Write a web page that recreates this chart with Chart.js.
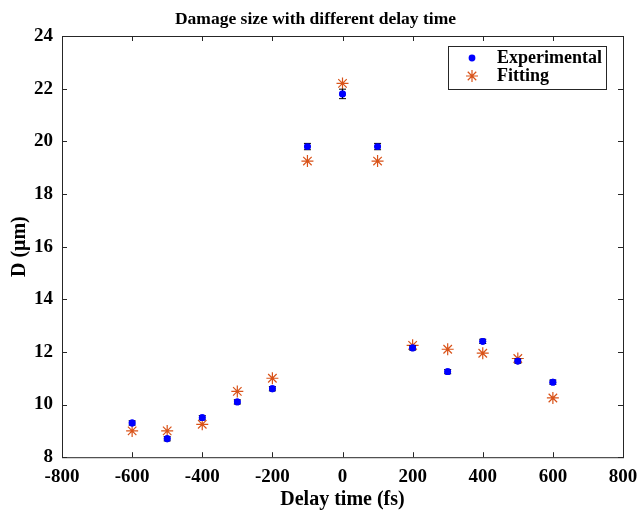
<!DOCTYPE html>
<html>
<head>
<meta charset="utf-8">
<script src="https://cdn.jsdelivr.net/npm/chart.js@4"></script>
<style>
  body { margin: 0; background: #fff; }
  #wrap { width: 639px; height: 510px; }
</style>
</head>
<body>
<div id="wrap"><canvas id="chart"></canvas></div>
<script>
// Data
const delayTimes = [-600, -500, -400, -300, -200, -100, 0, 100, 200, 300, 400, 500, 600];
const experimental = [9.3, 8.7, 9.5, 10.1, 10.6, 19.8, 21.8, 19.8, 12.15, 11.25, 12.4, 11.65, 10.85];
const expError = [0.08, 0.08, 0.08, 0.08, 0.08, 0.12, 0.18, 0.12, 0.08, 0.08, 0.08, 0.08, 0.08];
const fitting = [9.0, 9.0, 9.25, 10.5, 11.0, 19.25, 22.2, 19.25, 12.25, 12.1, 11.95, 11.75, 10.25];
const xTicks = [-800, -600, -400, -200, 0, 200, 400, 600, 800];
const yTicks = [8, 10, 12, 14, 16, 18, 20, 22, 24];

const FONT = "'Liberation Serif', 'Times New Roman', serif";
const BLUE = '#0000ff';
const ORANGE = '#D95319';

function drawStar(ctx, x, y, r) {
  ctx.beginPath();
  for (let k = 0; k < 4; k++) {
    const ang = k * Math.PI / 4;
    ctx.moveTo(x - r * Math.cos(ang), y - r * Math.sin(ang));
    ctx.lineTo(x + r * Math.cos(ang), y + r * Math.sin(ang));
  }
  ctx.stroke();
}

// error bars, box, inward ticks and legend
const extras = {
  id: 'extras',
  afterDatasetsDraw(chart) {
    const ctx = chart.ctx;
    const xs = chart.scales.x, ys = chart.scales.y;
    const a = chart.chartArea;
    ctx.save();
    // error bars
    ctx.strokeStyle = '#000';
    ctx.lineWidth = 1;
    delayTimes.forEach((t, i) => {
      const px = xs.getPixelForValue(t);
      const top = ys.getPixelForValue(experimental[i] + expError[i]);
      const bot = ys.getPixelForValue(experimental[i] - expError[i]);
      ctx.beginPath();
      ctx.moveTo(px, top); ctx.lineTo(px, bot);
      ctx.moveTo(px - 3.5, top); ctx.lineTo(px + 3.5, top);
      ctx.moveTo(px - 3.5, bot); ctx.lineTo(px + 3.5, bot);
      ctx.stroke();
    });
    // dots on top of the bars
    chart.getDatasetMeta(0).data.forEach(p => {
      ctx.fillStyle = BLUE;
      ctx.beginPath();
      ctx.arc(p.x, p.y, 3.4, 0, Math.PI * 2);
      ctx.fill();
    });
    // box
    ctx.strokeStyle = '#262626';
    ctx.lineWidth = 1;
    ctx.strokeRect(a.left + 0.5, a.top + 0.5, a.right - a.left, a.bottom - a.top);
    // inward ticks
    ctx.beginPath();
    xTicks.forEach(v => {
      const px = Math.round(xs.getPixelForValue(v)) + 0.5;
      ctx.moveTo(px, a.bottom); ctx.lineTo(px, a.bottom - 5);
      ctx.moveTo(px, a.top); ctx.lineTo(px, a.top + 5);
    });
    yTicks.forEach(v => {
      const py = Math.round(ys.getPixelForValue(v)) + 0.5;
      ctx.moveTo(a.left, py); ctx.lineTo(a.left + 5, py);
      ctx.moveTo(a.right, py); ctx.lineTo(a.right - 5, py);
    });
    ctx.stroke();
    // legend
    const lx = a.right - 175, ly = a.top + 10, lw = 158, lh = 43;
    ctx.fillStyle = '#fff';
    ctx.fillRect(lx, ly, lw, lh);
    ctx.strokeStyle = '#262626';
    ctx.strokeRect(lx + 0.5, ly + 0.5, lw, lh);
    ctx.fillStyle = BLUE;
    ctx.beginPath();
    ctx.arc(lx + 24, ly + 12, 3.4, 0, Math.PI * 2);
    ctx.fill();
    ctx.strokeStyle = ORANGE;
    ctx.lineWidth = 1.2;
    drawStar(ctx, lx + 24, ly + 30, 6);
    ctx.fillStyle = '#000';
    ctx.font = 'bold 18px ' + FONT;
    ctx.textBaseline = 'middle';
    ctx.fillText('Experimental', lx + 49, ly + 12);
    ctx.fillText('Fitting', lx + 49, ly + 30);
    ctx.restore();
  }
};

new Chart(document.getElementById('chart'), {
  type: 'scatter',
  data: {
    datasets: [
      {
        label: 'Experimental',
        data: delayTimes.map((t, i) => ({ x: t, y: experimental[i] })),
        pointStyle: 'circle',
        pointRadius: 3.4,
        backgroundColor: BLUE,
        borderColor: BLUE,
        borderWidth: 0
      },
      {
        label: 'Fitting',
        data: delayTimes.map((t, i) => ({ x: t, y: fitting[i] })),
        pointStyle: 'star',
        pointRadius: 6,
        borderColor: ORANGE,
        backgroundColor: ORANGE,
        borderWidth: 1.2
      }
    ]
  },
  options: {
    responsive: true,
    maintainAspectRatio: false,
    animation: false,
    layout: { padding: { left: 8, right: 16, top: 3, bottom: -2 } },
    plugins: {
      legend: { display: false },
      tooltip: { enabled: false },
      title: {
        display: true,
        text: 'Damage size with different delay time',
        color: '#000',
        font: { family: FONT, size: 17.5, weight: 'bold' },
        padding: { top: 6, bottom: 6 }
      }
    },
    scales: {
      x: {
        type: 'linear',
        min: -800, max: 800,
        afterBuildTicks: s => { s.ticks = xTicks.map(v => ({ value: v })); },
        grid: { display: false },
        border: { display: false },
        ticks: { color: '#000', font: { family: FONT, size: 19, weight: 'bold' }, padding: 0, maxRotation: 0 },
        title: { display: true, text: 'Delay time (fs)', color: '#000', font: { family: FONT, size: 20, weight: 'bold' }, padding: { top: 0, bottom: 0 } }
      },
      y: {
        type: 'linear',
        min: 8, max: 24,
        afterBuildTicks: s => { s.ticks = yTicks.map(v => ({ value: v })); },
        afterFit: s => { s.width = 54; },
        grid: { display: false },
        border: { display: false },
        ticks: { color: '#000', font: { family: FONT, size: 19, weight: 'bold' }, padding: 1 },
        title: { display: true, text: 'D (\u03bcm)', color: '#000', font: { family: FONT, size: 20, weight: 'bold' }, padding: { top: 0, bottom: 2 } }
      }
    }
  },
  plugins: [extras]
});
</script>
</body>
</html>
